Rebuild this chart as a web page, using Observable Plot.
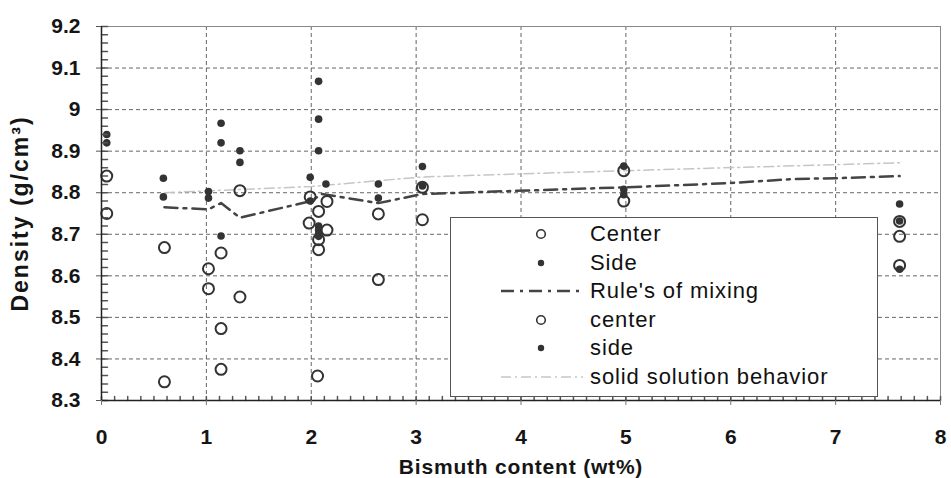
<!DOCTYPE html>
<html>
<head>
<meta charset="utf-8">
<script src="https://cdn.jsdelivr.net/npm/d3@7"></script>
<script src="https://cdn.jsdelivr.net/npm/@observablehq/plot@0.6"></script>
<style>
  body { margin: 0; background: #fff; }
  #chart { position: relative; width: 951px; height: 478px; font-family: "Liberation Sans", Arial, sans-serif; }
  #chart svg { display: block; }
  g[aria-label="x-axis label"] text { font-size: 21px; letter-spacing: 0.8px; }
  g[aria-label="y-axis label"] text { font-size: 23px; letter-spacing: 2px; }
  .legend { position: absolute; left: 450px; top: 217px; width: 426px; height: 178px;
            border: 1.5px solid #555; background: #fff; color: #111; }
  .legend .row { position: absolute; left: 0; height: 28px; width: 100%; }
  .legend .row svg { position: absolute; left: 50px; top: 0; }
  .legend .row span { position: absolute; left: 139px; top: 1px; font-size: 22px; line-height: 26px; letter-spacing: 0.9px; }
</style>
</head>
<body>
<div id="chart"></div>
<script>
// Density measurements, [Bi wt%, g/cm³]
const centerPoints = [
  [0.05, 8.84], [0.05, 8.75],
  [0.6, 8.668], [0.6, 8.345],
  [1.02, 8.617], [1.02, 8.569],
  [1.14, 8.655], [1.14, 8.473], [1.14, 8.375],
  [1.32, 8.805], [1.32, 8.549],
  [1.99, 8.79], [1.98, 8.727],
  [2.07, 8.755], [2.07, 8.687], [2.07, 8.663], [2.06, 8.359],
  [2.15, 8.779], [2.15, 8.71],
  [2.64, 8.749], [2.64, 8.591],
  [3.06, 8.813], [3.06, 8.735],
  [4.98, 8.853], [4.98, 8.78],
  [7.61, 8.731], [7.61, 8.695], [7.61, 8.625]
];
const sidePoints = [
  [0.05, 8.94], [0.05, 8.92],
  [0.59, 8.835], [0.59, 8.79],
  [1.02, 8.803], [1.02, 8.787],
  [1.14, 8.967], [1.14, 8.92], [1.14, 8.696],
  [1.32, 8.901], [1.32, 8.873],
  [1.99, 8.837], [1.99, 8.78],
  [2.07, 9.068], [2.07, 8.977], [2.07, 8.901],
  [2.14, 8.821],
  [2.07, 8.72], [2.07, 8.71], [2.07, 8.70], [2.07, 8.695],
  [2.64, 8.821], [2.64, 8.787],
  [3.06, 8.863], [3.06, 8.816],
  [4.98, 8.864], [4.98, 8.808], [4.98, 8.795],
  [7.61, 8.773], [7.61, 8.732], [7.61, 8.616]
];
// Rule of mixtures prediction
const mixingLine = [
  [0.6, 8.765], [1.02, 8.76], [1.14, 8.775], [1.32, 8.74],
  [2.0, 8.78], [2.1, 8.797], [2.64, 8.775], [3.06, 8.797],
  [4.98, 8.813], [5.98, 8.823], [6.6, 8.833], [7.0, 8.835], [7.61, 8.84]
];
// Ideal solid-solution density
const solidLine = [
  [0.6, 8.80], [2.0, 8.815], [3.06, 8.838], [4.98, 8.853], [7.61, 8.872]
];

const xTicks = [0, 1, 2, 3, 4, 5, 6, 7, 8];
const yTicks = [83, 84, 85, 86, 87, 88, 89, 90, 91, 92].map(d => d / 10);
const xGrid = [1, 2, 3, 4, 5, 6, 7];
const yGrid = [84, 85, 86, 87, 88, 89, 90, 91].map(d => d / 10);
const xMinor = d3.range(0, 65).map(i => i / 8);
const yMinor = d3.range(0, 46).map(i => (830 + i * 2) / 100);

const legendLabels = ["Center", "Side", "Rule's of mixing", "center", "side", "solid solution behavior"];
const legendKinds = ["open", "dot", "mix", "open", "dot", "solid"];

const ink = "#333";
const fmt = d3.format("~g");

const plot = Plot.plot({
  width: 951,
  height: 478,
  marginLeft: 101,
  marginRight: 11,
  marginTop: 26,
  marginBottom: 78,
  style: { fontFamily: "Liberation Sans, Arial, sans-serif", fontSize: "21px", fontWeight: "bold", color: "#151515", background: "#fff" },
  x: { domain: [0, 8] },
  y: { domain: [8.3, 9.2] },
  marks: [
    Plot.gridX(xGrid, { stroke: "#555", strokeOpacity: 0.9, strokeDasharray: "4,3" }),
    Plot.gridY(yGrid, { stroke: "#555", strokeOpacity: 0.9, strokeDasharray: "4,3" }),
    Plot.line(solidLine, { x: d => d[0], y: d => d[1], stroke: "#c6c6c6", strokeWidth: 1.5, strokeDasharray: "10,4,2,4" }),
    Plot.line(mixingLine, { x: d => d[0], y: d => d[1], stroke: "#444", strokeWidth: 2.5, strokeDasharray: "13,6,3,6" }),
    Plot.dot(centerPoints, { x: d => d[0], y: d => d[1], r: 5.5, stroke: ink, strokeWidth: 2, fill: "none" }),
    Plot.dot(sidePoints, { x: d => d[0], y: d => d[1], r: 3.8, fill: ink }),
    Plot.frame({ stroke: "#888" }),
    Plot.vector(yMinor, { x: 0, y: d => d, length: 6, rotate: 90, anchor: "start", r: 0, stroke: "#555" }),
    Plot.vector(xMinor, { x: d => d, y: 8.3, length: 4, rotate: 0, anchor: "start", r: 0, stroke: "#555" }),
    Plot.ruleX([0], { stroke: "#222", strokeWidth: 1.5 }),
    Plot.ruleY([8.3], { stroke: "#222", strokeWidth: 1.5 }),
    Plot.axisX({ ticks: xTicks, tickFormat: fmt, tickSize: 5, tickPadding: 24, stroke: "#777",
                 label: "Bismuth content (wt%)", labelAnchor: "center", labelOffset: 73, labelArrow: "none" }),
    Plot.axisY({ ticks: yTicks, tickFormat: fmt, tickSize: 5, tickPadding: 16, stroke: "#555",
                 label: "Density (g/cm³)", labelAnchor: "center", labelOffset: 90, labelArrow: "none" })
  ]
});

const chart = document.getElementById("chart");
chart.appendChild(plot);

// Legend box drawn over the plot area
const legend = document.createElement("div");
legend.className = "legend";
legendLabels.forEach((label, i) => {
  const row = document.createElement("div");
  row.className = "row";
  row.style.top = (2 + i * 28.6) + "px";
  const kind = legendKinds[i];
  let sym = "";
  if (kind === "open") sym = `<circle cx="40" cy="14" r="4.3" fill="none" stroke="${ink}" stroke-width="1.6"/>`;
  if (kind === "dot") sym = `<circle cx="40" cy="14" r="3.2" fill="${ink}"/>`;
  if (kind === "mix") sym = `<line x1="0" x2="82" y1="14" y2="14" stroke="#444" stroke-width="2.5" stroke-dasharray="13,6,3,6"/>`;
  if (kind === "solid") sym = `<line x1="0" x2="82" y1="14" y2="14" stroke="#c6c6c6" stroke-width="1.5" stroke-dasharray="10,4,2,4"/>`;
  row.innerHTML = `<svg width="84" height="28">${sym}</svg><span>${label}</span>`;
  legend.appendChild(row);
});
chart.appendChild(legend);
</script>
</body>
</html>
